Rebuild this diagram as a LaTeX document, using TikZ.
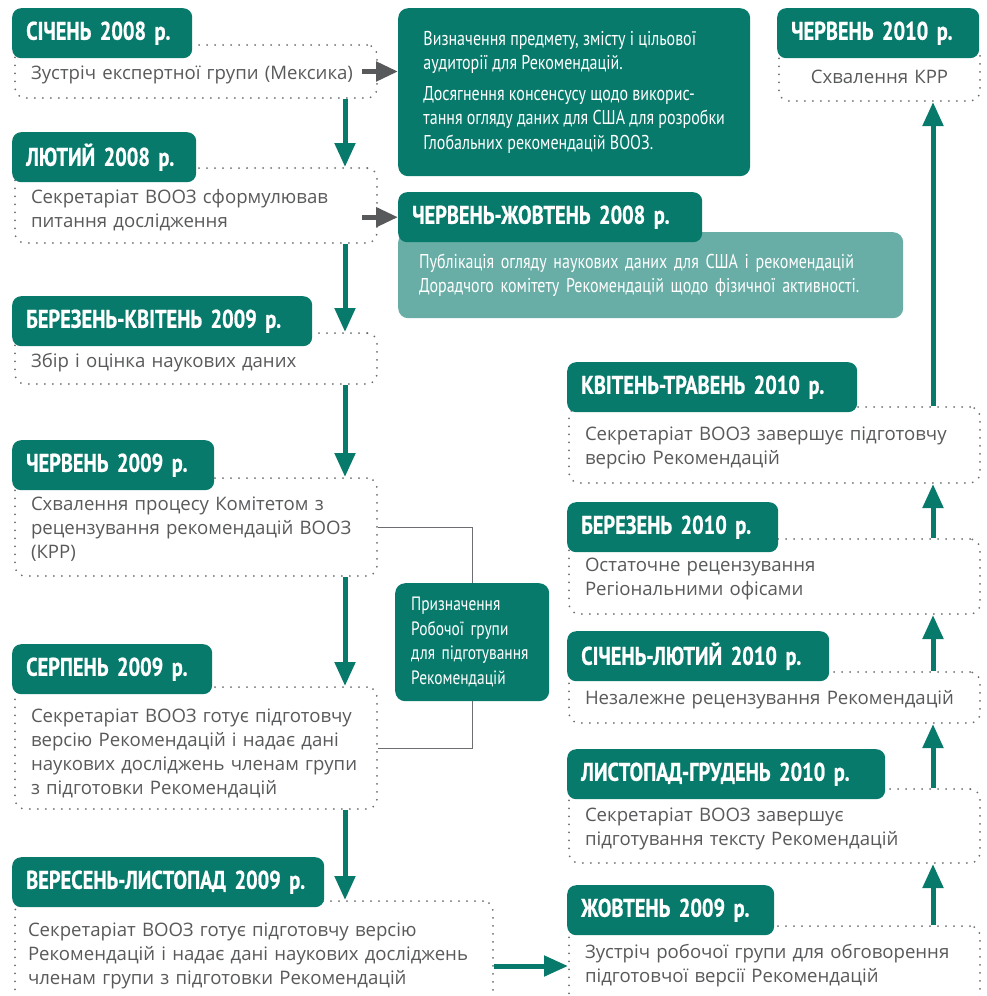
\documentclass[tikz,border=0pt]{standalone}
\usepackage{fontspec}
\setmainfont{Open Sans}
\newfontfamily\condfont[FakeStretch=0.8,BoldFeatures={FakeBold=0.8}]{PT Sans}
\usepackage{tikz}
\usetikzlibrary{arrows.meta}

\definecolor{whogreen}{HTML}{077A6B}
\definecolor{lightgreen}{HTML}{68AEA6}
\definecolor{textgray}{HTML}{58595B}
\definecolor{dotgray}{HTML}{6D6E71}

\begin{document}
\begin{tikzpicture}[x=1pt,y=-1pt,
	hdr/.style={fill=whogreen,text=white,rounded corners=9pt,anchor=north west,minimum height=50pt,
		inner xsep=14pt,text width=#1,align=left,font=\condfont\bfseries\fontsize{25.5}{27}\selectfont},
	body/.style={draw=dotgray,line width=2pt,dash pattern=on 0pt off 8pt,line cap=round,
		rounded corners=10pt,anchor=north west,inner xsep=16pt,text width=#1,align=left,
		text=textgray,font=\fontsize{18.6}{24}\selectfont},
	drop/.style={text height=#1},
	note/.style={fill=#1,text=white,rounded corners=10pt,anchor=north west,inner xsep=21pt,
		align=left,font=\condfont\fontsize{20}{24.5}\selectfont},
	flow/.style={-{Triangle[width=20pt,length=24pt]},draw=whogreen,line width=5pt},
	side/.style={-{Triangle[width=19pt,length=22pt]},draw=textgray,line width=5pt},
	link/.style={draw=dotgray,line width=1pt}]
	\useasboundingbox (0,0) rectangle (986,996);

	% left column
	\node[body=330pt,minimum height=53pt,drop=21pt] (b1) at (14,44) {Зустріч експертної групи (Мексика)};
	\node[hdr=152pt] (h1) at (12,8) {СІЧЕНЬ 2008 р.};
	\node[body=330pt,minimum height=75pt,drop=23pt] (b2) at (14,167) {Секретаріат ВООЗ сформулював\\питання дослідження};
	\node[hdr=156pt] (h2) at (12,132) {ЛЮТИЙ 2008 р.};
	\node[body=330pt,minimum height=51pt,drop=23pt] (b3) at (14,332) {Збір і оцінка наукових даних};
	\node[hdr=272pt] (h3) at (12,296) {БЕРЕЗЕНЬ-КВІТЕНЬ 2009 р.};
	\node[body=330pt,minimum height=98pt,drop=17pt] (b4) at (14,477) {Схвалення процесу Комітетом з\\рецензування рекомендацій ВООЗ\\(КРР)};
	\node[hdr=174pt] (h4) at (12,440) {ЧЕРВЕНЬ 2009 р.};
	\node[body=330pt,minimum height=122pt,drop=24pt] (b5) at (14,686) {Секретаріат ВООЗ готує підготовчу\\версію Рекомендацій і надає дані\\наукових досліджень членам групи\\з підготовки Рекомендацій};
	\node[hdr=172pt] (h5) at (12,644) {СЕРПЕНЬ 2009 р.};
	\node[body=452pt,inner xsep=13pt,minimum height=110pt,drop=14pt] (b6) at (14,900) {Секретаріат ВООЗ готує підготовчу версію\\Рекомендацій і надає дані наукових досліджень\\членам групи з підготовки Рекомендацій};
	\node[hdr=284pt] (h6) at (12,857) {ВЕРЕСЕНЬ-ЛИСТОПАД 2009 р.};

	% middle
	\node[note=whogreen,minimum width=352pt,minimum height=168pt] (aim) at (398,8)
		{Визначення предмету, змісту і цільової\\аудиторії для Рекомендацій.\\[6pt]
		Досягнення консенсусу щодо викорис-\\тання огляду даних для США для розробки\\Глобальних рекомендацій ВООЗ.};
	\node[note=lightgreen,text width=463pt,minimum height=86pt] (pub) at (398,232)
		{Публікація огляду наукових даних для США і рекомендацій\\Дорадчого комітету Рекомендацій щодо фізичної активності.};
	\node[hdr=276pt] (h7) at (398,192) {ЧЕРВЕНЬ-ЖОВТЕНЬ 2008 р.};
	\node[note=whogreen,inner xsep=16pt,text width=122pt,minimum height=118pt,
		font=\condfont\fontsize{19.3}{24.5}\selectfont] (wg) at (395,583)
		{Призначення\\Робочої групи\\для підготування\\Рекомендацій};

	% right column
	\node[body=169pt,align=center,minimum height=56pt,drop=22pt] (r1) at (778,44) {Схвалення КРР};
	\node[hdr=174pt] (g1) at (777,8) {ЧЕРВЕНЬ 2010 р.};
	\node[body=379pt,minimum height=76pt,drop=20pt] (r2) at (568,406) {Секретаріат ВООЗ завершує підготовчу\\версію Рекомендацій};
	\node[hdr=262pt] (g2) at (567,362) {КВІТЕНЬ-ТРАВЕНЬ 2010 р.};
	\node[body=379pt,minimum height=75pt,drop=19pt] (r3) at (568,538) {Остаточне рецензування\\Регіональними офісами};
	\node[hdr=183pt] (g3) at (567,502) {БЕРЕЗЕНЬ 2010 р.};
	\node[body=379pt,minimum height=51pt,drop=19pt] (r4) at (568,671) {Незалежне рецензування Рекомендацій};
	\node[hdr=234pt] (g4) at (567,631) {СІЧЕНЬ-ЛЮТИЙ 2010 р.};
	\node[body=379pt,minimum height=74pt,drop=20pt] (r5) at (568,788) {Секретаріат ВООЗ завершує\\підготування тексту Рекомендацій};
	\node[hdr=290pt] (g5) at (567,749) {ЛИСТОПАД-ГРУДЕНЬ 2010 р.};
	\node[body=379pt,minimum height=80pt,drop=14pt] (r6) at (568,925) {Зустріч робочої групи для обговорення\\підготовчої версії Рекомендацій};
	\node[hdr=179pt] (g6) at (567,885) {ЖОВТЕНЬ 2009 р.};

	% connectors
	\draw[flow] ([xshift=-33pt]b1.south east) -- ([xshift=-33pt]b2.north east);
	\draw[flow] ([xshift=-33pt]b2.south east) -- ([xshift=-33pt]b3.north east);
	\draw[flow] ([xshift=-33pt]b3.south east) -- ([xshift=-33pt]b4.north east);
	\draw[flow] ([xshift=-33pt]b4.south east) -- ([xshift=-33pt]b5.north east);
	\draw[flow] ([xshift=-33pt]b5.south east) -- ([xshift=-33pt]b5.south east |- b6.north);
	\draw[flow] (b6.east |- r6.west) -- (r6.west);
	\draw[flow] ([xshift=-48pt]r6.north east) -- ([xshift=-48pt]r5.south east);
	\draw[flow] ([xshift=-48pt]r5.north east) -- ([xshift=-48pt]r4.south east);
	\draw[flow] ([xshift=-48pt]r4.north east) -- ([xshift=-48pt]r3.south east);
	\draw[flow] ([xshift=-48pt]r3.north east) -- ([xshift=-48pt]r2.south east);
	\draw[flow] ([xshift=-48pt]r2.north east) -- ([xshift=-48pt]r1.south east);
	\draw[side] ([xshift=-16pt]b1.east) -- (b1.east -| aim.west);
	\draw[side] ([xshift=-16pt]b2.east |- h7.west) -- (h7.west);
	\draw[link] (b4.east) -| (wg.north);
	\draw[link] (wg.south) |- (b5.east);
\end{tikzpicture}
\end{document}
